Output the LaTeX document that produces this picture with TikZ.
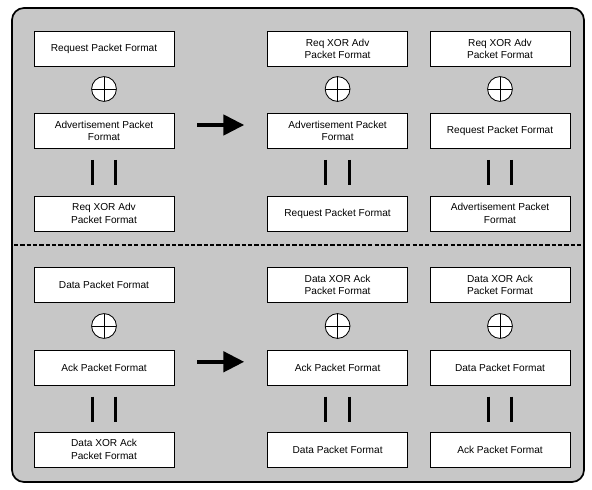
\documentclass[tikz,border=0pt]{standalone}
\usepackage{fontspec}
\setmainfont{Liberation Sans}
\usetikzlibrary{arrows.meta, positioning, calc}

\begin{document}
\begin{tikzpicture}[
    pktbox/.style={rectangle, draw, fill=white, line width=0.5pt, minimum width=3.5cm, minimum height=0.875cm, align=center, font=\fontsize{7.2}{8.6}\selectfont},
    xorsym/.style={circle, draw, fill=white, line width=0.6pt, minimum size=0.62cm, inner sep=0pt,
        path picture={\draw[line width=0.5pt] (path picture bounding box.north) -- (path picture bounding box.south)
                                              (path picture bounding box.west) -- (path picture bounding box.east);}},
    orbar/.style={rectangle, minimum width=0.58cm, minimum height=0.625cm, inner sep=0pt},
    barline/.style={line width=2.1pt},
    bigarrow/.style={line width=3pt, -{Triangle[length=0.52cm, width=0.5cm]}}
]

    \useasboundingbox (0,0) rectangle (14.8,12.225);

    % frame and background
    \draw[line width=1.2pt, fill=black!22, rounded corners=0.3cm] (0.3,0.175) rectangle (14.6,12.025);
    \draw[dashed, line width=1.1pt, dash pattern=on 3pt off 1.5pt] (0.35,6.1) -- (14.575,6.1);

    % upper half: request / advertisement
    \node[pktbox] (req1) at (2.6,11.0) {Request Packet Format};
    \node[xorsym] (x1) at (2.6,10.0) {};
    \node[pktbox] (adv1) at (2.6,8.95) {Advertisement Packet\\Format};
    \node[orbar] (eq1) at (2.6,7.91) {};
    \node[pktbox] (ra1) at (2.6,6.89) {Req XOR Adv\\Packet Format};

    \node[pktbox] (ra2) at (8.44,11.0) {Req XOR Adv\\Packet Format};
    \node[xorsym] (x2) at (8.44,10.0) {};
    \node[pktbox] (adv2) at (8.44,8.95) {Advertisement Packet\\Format};
    \node[orbar] (eq2) at (8.44,7.91) {};
    \node[pktbox] (req2) at (8.44,6.89) {Request Packet Format};

    \node[pktbox] (ra3) at (12.5,11.0) {Req XOR Adv\\Packet Format};
    \node[xorsym] (x3) at (12.5,10.0) {};
    \node[pktbox] (req3) at (12.5,8.95) {Request Packet Format};
    \node[orbar] (eq3) at (12.5,7.91) {};
    \node[pktbox] (adv3) at (12.5,6.89) {Advertisement Packet\\Format};

    % lower half: data / ack
    \node[pktbox] (data1) at (2.6,5.1) {Data Packet Format};
    \node[xorsym] (x4) at (2.6,4.075) {};
    \node[pktbox] (ack1) at (2.6,3.04) {Ack Packet Format};
    \node[orbar] (eq4) at (2.6,1.99) {};
    \node[pktbox] (da1) at (2.6,0.99) {Data XOR Ack\\Packet Format};

    \node[pktbox] (da2) at (8.44,5.1) {Data XOR Ack\\Packet Format};
    \node[xorsym] (x5) at (8.44,4.075) {};
    \node[pktbox] (ack2) at (8.44,3.04) {Ack Packet Format};
    \node[orbar] (eq5) at (8.44,1.99) {};
    \node[pktbox] (data2) at (8.44,0.99) {Data Packet Format};

    \node[pktbox] (da3) at (12.5,5.1) {Data XOR Ack\\Packet Format};
    \node[xorsym] (x6) at (12.5,4.075) {};
    \node[pktbox] (data3) at (12.5,3.04) {Data Packet Format};
    \node[orbar] (eq6) at (12.5,1.99) {};
    \node[pktbox] (ack3) at (12.5,0.99) {Ack Packet Format};

    % the double bars
    \foreach \e in {eq1,eq2,eq3,eq4,eq5,eq6}
        \draw[barline] (\e.north west) -- (\e.south west) (\e.north east) -- (\e.south east);

    % arrows
    \draw[bigarrow] ([xshift=0.575cm, yshift=0.15cm]adv1.east) -- ([xshift=-0.575cm, yshift=0.15cm]adv2.west);
    \draw[bigarrow] ([xshift=0.575cm, yshift=0.14cm]ack1.east) -- ([xshift=-0.575cm, yshift=0.14cm]ack2.west);

\end{tikzpicture}
\end{document}
